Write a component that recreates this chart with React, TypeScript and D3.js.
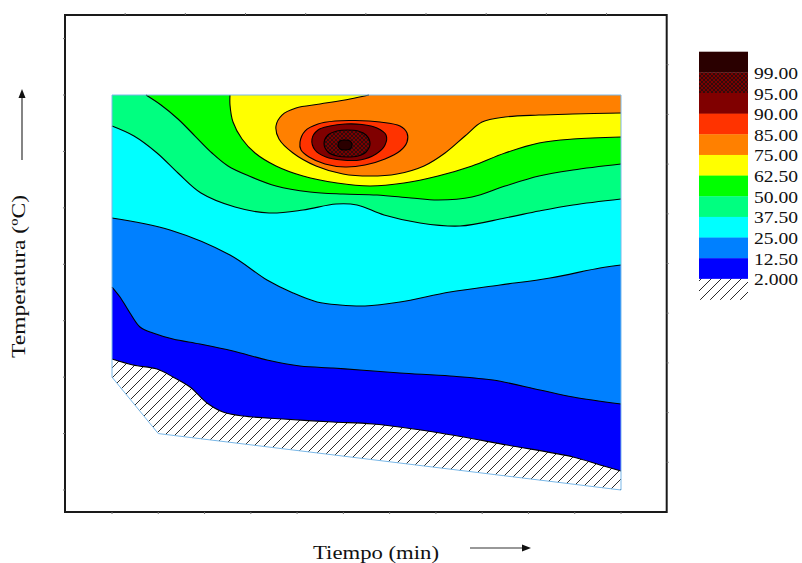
import React from 'react';
import * as d3 from 'd3';

type P = [number, number];

// contour levels and legend
const legendLabels = ["99.00", "95.00", "90.00", "85.00", "75.00", "62.50", "50.00", "37.50", "25.00", "12.50", "2.000"];
const legendFills = ["#2a0000", "url(#xhatch)", "#800000", "#ff3300", "#ff8000", "#ffff00", "#00ff00", "#00ff80", "#00ffff", "#0080ff", "#0000ff", "url(#hatch)"];

// data domain (tiempo, temperatura) outline
const domainOutline: P[] = [[0, 7], [11, 7], [11, 0], [1, 1], [0, 2]];

// open contour lines (t, T)
const c2: P[] = [[0, 2.32], [0.454, 2.215], [0.973, 2.144], [1.318, 2.003], [1.686, 1.825], [2.053, 1.542], [2.399, 1.382], [2.831, 1.311], [3.696, 1.258], [4.776, 1.205], [5.641, 1.17], [7.089, 1.01], [8.537, 0.797], [9.963, 0.585], [10.547, 0.443], [11, 0.337]];
const c12: P[] = [[0, 3.597], [0.173, 3.42], [0.389, 3.137], [0.605, 2.889], [0.886, 2.782], [1.318, 2.676], [1.902, 2.587], [2.615, 2.463], [3.35, 2.304], [4.063, 2.197], [4.776, 2.162], [5.36, 2.127], [6.224, 2.073], [7.305, 2.02], [8.234, 1.949], [9.25, 1.772], [9.963, 1.648], [11, 1.524]];
const c25: P[] = [[0, 4.82], [1.254, 4.607], [2.55, 4.164], [3.35, 3.721], [3.912, 3.491], [4.431, 3.332], [4.928, 3.278], [5.468, 3.261], [6.224, 3.332], [7.305, 3.509], [8.386, 3.633], [9.466, 3.757], [10.547, 3.934], [11, 3.987]];
const c37: P[] = [[0, 6.45], [0.475, 6.273], [0.973, 5.972], [1.426, 5.618], [1.923, 5.263], [2.658, 5.015], [3.393, 4.909], [4.128, 4.962], [4.841, 5.068], [5.295, 5.051], [5.879, 4.873], [6.657, 4.732], [7.521, 4.678], [8.494, 4.82], [9.228, 4.944], [9.963, 5.051], [11, 5.157]];
const c50: P[] = [[0.735, 7], [1.059, 6.823], [1.426, 6.575], [1.794, 6.273], [2.161, 5.972], [2.507, 5.742], [2.961, 5.564], [3.544, 5.387], [4.279, 5.281], [4.992, 5.245], [5.727, 5.228], [6.462, 5.175], [7.046, 5.139], [7.78, 5.192], [8.494, 5.387], [9.228, 5.564], [9.963, 5.671], [11, 5.777]];
const c62: P[] = [[2.55, 7], [2.55, 6.823], [2.615, 6.521], [2.81, 6.22], [3.091, 5.972], [3.544, 5.742], [4.128, 5.564], [4.863, 5.44], [5.576, 5.387], [6.311, 5.44], [7.046, 5.564], [7.78, 5.742], [8.494, 5.972], [9.228, 6.149], [9.963, 6.22], [11, 6.256]];
const c75: P[] = [[5.554, 7], [5.144, 6.929], [4.495, 6.84], [3.977, 6.77], [3.674, 6.645], [3.544, 6.45], [3.609, 6.22], [3.912, 5.972], [4.409, 5.742], [4.992, 5.6], [5.576, 5.564], [6.16, 5.6], [6.743, 5.742], [7.197, 5.972], [7.629, 6.273], [7.997, 6.521], [8.494, 6.61], [9.228, 6.645], [9.963, 6.663], [11, 6.681]];

// closed contours round the maximum
const c85: P[] = [[4.063, 6.167], [4.171, 6.362], [4.452, 6.486], [4.82, 6.539], [5.252, 6.548], [5.792, 6.521], [6.224, 6.45], [6.376, 6.326], [6.376, 6.167], [6.224, 6.007], [5.9, 5.866], [5.468, 5.759], [5.036, 5.724], [4.603, 5.777], [4.258, 5.901], [4.085, 6.025]];
const c90: P[] = [[4.322, 6.22], [4.452, 6.38], [4.711, 6.45], [5.036, 6.486], [5.403, 6.477], [5.727, 6.415], [5.922, 6.291], [5.9, 6.114], [5.706, 5.954], [5.36, 5.848], [4.971, 5.848], [4.625, 5.901], [4.387, 6.025]];
const c95: P[] = [[4.582, 6.14], [4.668, 6.291], [4.863, 6.362], [5.079, 6.38], [5.317, 6.362], [5.49, 6.291], [5.576, 6.14], [5.49, 5.99], [5.317, 5.919], [5.079, 5.901], [4.863, 5.919], [4.668, 5.99]];
const c99: P[] = [[4.884, 6.114], [4.928, 6.185], [5.036, 6.202], [5.144, 6.185], [5.188, 6.114], [5.144, 6.043], [5.036, 6.025], [4.928, 6.043]];

const serif = '"Liberation Serif", "Times New Roman", serif';

export default function App() {
  const W = 802, H = 563;
  const frame = { l: 65, r: 666.7, t: 15, b: 512 };

  const x = d3.scaleLinear().domain([0, 11]).range([112, 621]);
  const y = d3.scaleLinear().domain([0, 7]).range([490, 95]);

  const smooth = d3.curveCatmullRom.alpha(0.5);
  const line = d3.line<P>().x(d => x(d[0])).y(d => y(d[1])).curve(smooth);
  const ring = d3.line<P>().x(d => x(d[0])).y(d => y(d[1])).curve(d3.curveCatmullRomClosed.alpha(0.5));
  const above = d3.area<P>().x(d => x(d[0])).y0(y(7)).y1(d => y(d[1])).curve(smooth);
  const poly = d3.line<P>().x(d => x(d[0])).y(d => y(d[1]));

  const bands: [P[], string][] = [
    [c2, "#0000ff"], [c12, "#0080ff"], [c25, "#00ffff"], [c37, "#00ff80"], [c50, "#00ff00"], [c62, "#ffff00"],
  ];
  const orangePath = line(c75) + `L${x(11)},${y(7)}Z`;
  const rings: [P[], string][] = [[c85, "#ff3300"], [c90, "#800000"], [c95, "url(#xhatch)"], [c99, "#2a0000"]];

  // legend
  const ly = d3.scaleLinear().domain([0, 12]).range([51.7, 299.5]);

  const topTicks = d3.range(1, 10).map(i => frame.l + (frame.r - frame.l) * i / 10);
  const rightTicks = d3.range(1, 10).map(i => frame.t + (frame.b - frame.t) * i / 10);

  return (
    <svg width={W} height={H} style={{ position: 'absolute', left: 0, top: 0, background: '#fff' }}>
      <defs>
        <pattern id="hatch" patternUnits="userSpaceOnUse" width={10} height={10}>
          <rect width={10} height={10} fill="#fff" />
          <path d="M0,10L10,0M-2.5,2.5L2.5,-2.5M7.5,12.5L12.5,7.5" stroke="#111" strokeWidth={0.9} />
        </pattern>
        <pattern id="xhatch" patternUnits="userSpaceOnUse" width={4} height={4}>
          <rect width={4} height={4} fill="#7a0000" />
          <path d="M0,0L4,4M4,0L0,4" stroke="#111" strokeWidth={0.7} />
        </pattern>
      </defs>

      {/* frame */}
      <rect x={frame.l} y={frame.t} width={frame.r - frame.l} height={frame.b - frame.t} fill="none" stroke="#1a1a1a" strokeWidth={2} />
      <g stroke="#777" strokeWidth={1}>
        {topTicks.map((t, i) => <line key={'t' + i} x1={t} x2={t} y1={frame.t} y2={frame.t - 2} />)}
        {d3.range(0, 12).map(v => <line key={'b' + v} x1={x(v)} x2={x(v)} y1={frame.b} y2={frame.b + 2} />)}
        {d3.range(0, 9).map(v => <line key={'l' + v} x1={frame.l} x2={frame.l - 2} y1={y(v)} y2={y(v)} />)}
        {rightTicks.map((t, i) => <line key={'r' + i} x1={frame.r} x2={frame.r + 2} y1={t} y2={t} />)}
      </g>

      {/* filled contours */}
      <path d={poly(domainOutline) + 'Z'} fill="url(#hatch)" />
      {bands.map(([c, col], i) => <path key={'a' + i} d={above(c) || ''} fill={col} />)}
      <path d={orangePath} fill="#ff8000" />
      {rings.map(([c, col], i) => <path key={'r' + i} d={ring(c) || ''} fill={col} />)}

      {/* contour lines */}
      <g fill="none" stroke="#000" strokeWidth={1.1}>
        {[c2, c12, c25, c37, c50, c62, c75].map((c, i) => <path key={'l' + i} d={line(c) || ''} />)}
        {[c85, c90, c95, c99].map((c, i) => <path key={'c' + i} d={ring(c) || ''} />)}
      </g>
      <path d={poly(domainOutline) + 'Z'} fill="none" stroke="#7ab8e8" strokeWidth={1} />

      {/* legend */}
      {legendFills.map((f, i) => (
        <rect key={'lg' + i} x={699} y={ly(i)} width={49} height={ly(i + 1) - ly(i) + 0.3} fill={f} />
      ))}
      {legendLabels.map((s, i) => (
        <text key={'ll' + i} x={754} y={ly(i + 1) + 6.5} fontFamily={serif} fontSize={16} textLength={44} lengthAdjust="spacingAndGlyphs" fill="#111">{s}</text>
      ))}

      {/* axis titles */}
      <text x={376} y={559} textAnchor="middle" fontFamily={serif} fontSize={19} textLength={126} lengthAdjust="spacingAndGlyphs" fill="#111">Tiempo (min)</text>
      <g stroke="#333" strokeWidth={1.2}>
        <line x1={470} x2={524} y1={548} y2={548} />
        <line x1={22} x2={22} y1={160} y2={96} />
      </g>
      <path d="M531,548L522,544.5L522,551.5Z" fill="#111" />
      <path d="M22,89L18.5,98L25.5,98Z" fill="#111" />
      <text transform="translate(25,276.5) rotate(-90)" textAnchor="middle" fontFamily={serif} fontSize={19} textLength={163} lengthAdjust="spacingAndGlyphs" fill="#111">Temperatura (ºC)</text>
    </svg>
  );
}
